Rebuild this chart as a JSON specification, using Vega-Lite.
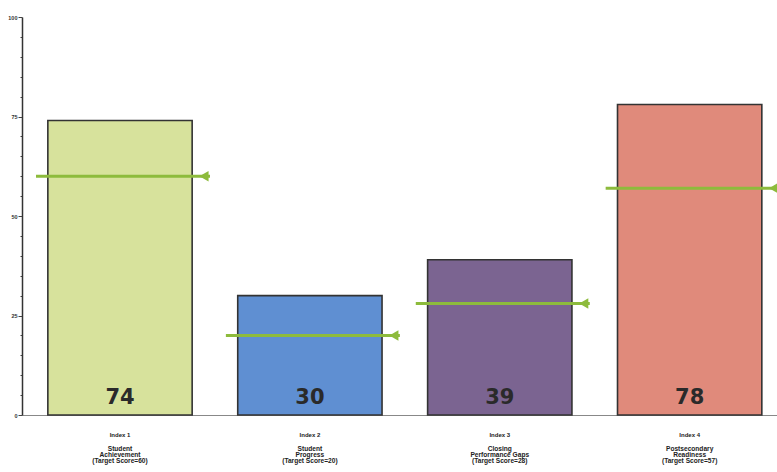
{
  "$schema": "https://vega.github.io/schema/vega-lite/v6.json",
  "width": 755,
  "height": 398,
  "autosize": "none",
  "padding": {"left": 22, "top": 17, "right": 0, "bottom": 57},
  "background": "white",
  "config": {
    "view": {"stroke": null},
    "axisY": {
      "tickCount": 30,
      "labelExpr": "datum.value % 25 === 0 ? datum.label : ''",
      "labelOverlap": false,
      "labelFont": "Liberation Sans",
      "labelFontSize": 5.5,
      "labelFontWeight": "bold",
      "labelColor": "#333",
      "labelPadding": 1,
      "grid": false,
      "domainColor": "#333",
      "domainWidth": 1.5,
      "tickColor": "#444",
      "tickSize": {"condition": {"test": "datum.value % 25 === 0", "value": 4}, "value": 2},
      "tickWidth": 1,
      "title": null
    }
  },
  "data": {
    "values": [
      {"index": "Index 1", "desc": "Student|Achievement|(Target Score=60)", "score": 74, "target": 60},
      {"index": "Index 2", "desc": "Student|Progress|(Target Score=20)", "score": 30, "target": 20},
      {"index": "Index 3", "desc": "Closing|Performance Gaps|(Target Score=28)", "score": 39, "target": 28},
      {"index": "Index 4", "desc": "Postsecondary|Readiness|(Target Score=57)", "score": 78, "target": 57}
    ]
  },
  "encoding": {
    "x": {
      "field": "index",
      "type": "nominal",
      "sort": null,
      "title": null,
      "scale": {"paddingInner": 0.24, "paddingOuter": 0.108, "align": 0.63},
      "axis": {
        "labelAngle": 0,
        "labelFont": "Liberation Sans",
        "labelFontWeight": "bold",
        "labelFontSize": 6,
        "labelColor": "#222",
        "labelPadding": 16,
        "ticks": false,
        "domainColor": "#888",
        "domainWidth": 1
      }
    }
  },
  "layer": [
    {
      "mark": {"type": "bar", "stroke": "#333333", "strokeWidth": 1.6},
      "encoding": {
        "y": {
          "field": "score",
          "type": "quantitative",
          "title": null,
          "scale": {"domain": [0, 100], "nice": false},
          "axis": {"tickCount": 30, "values": [0,5,10,15,20,25,30,35,40,45,50,55,60,65,70,75,80,85,90,95,100]}
        },
        "color": {
          "field": "index",
          "type": "nominal",
          "legend": null,
          "scale": {"range": ["#d7e29c", "#5f8fd2", "#7b6491", "#e08a7b"]}
        }
      }
    },
    {
      "mark": {"type": "tick", "color": "#8dbb3c", "thickness": 3, "size": 174, "xOffset": 3, "opacity": 1},
      "encoding": {
        "y": {"field": "target", "type": "quantitative", "title": null}
      }
    },
    {
      "mark": {"type": "point", "shape": "triangle-left", "filled": true, "color": "#8dbb3c", "size": 110, "xOffset": 84, "opacity": 1},
      "encoding": {
        "y": {"field": "target", "type": "quantitative", "title": null}
      }
    },
    {
      "mark": {"type": "text", "font": "DejaVu Sans", "fontWeight": "bold", "fontSize": 21, "color": "#2a2a2a", "baseline": "alphabetic", "dy": -11},
      "encoding": {
        "y": {"datum": 0, "type": "quantitative"},
        "text": {"field": "score", "type": "quantitative"}
      }
    },
    {
      "mark": {"type": "text", "font": "Liberation Sans", "fontWeight": "bold", "fontSize": 6.6, "lineHeight": 5.8, "lineBreak": "|", "color": "#222", "baseline": "top", "dy": 31},
      "encoding": {
        "y": {"datum": 0, "type": "quantitative"},
        "text": {"field": "desc", "type": "nominal"}
      }
    }
  ]
}
